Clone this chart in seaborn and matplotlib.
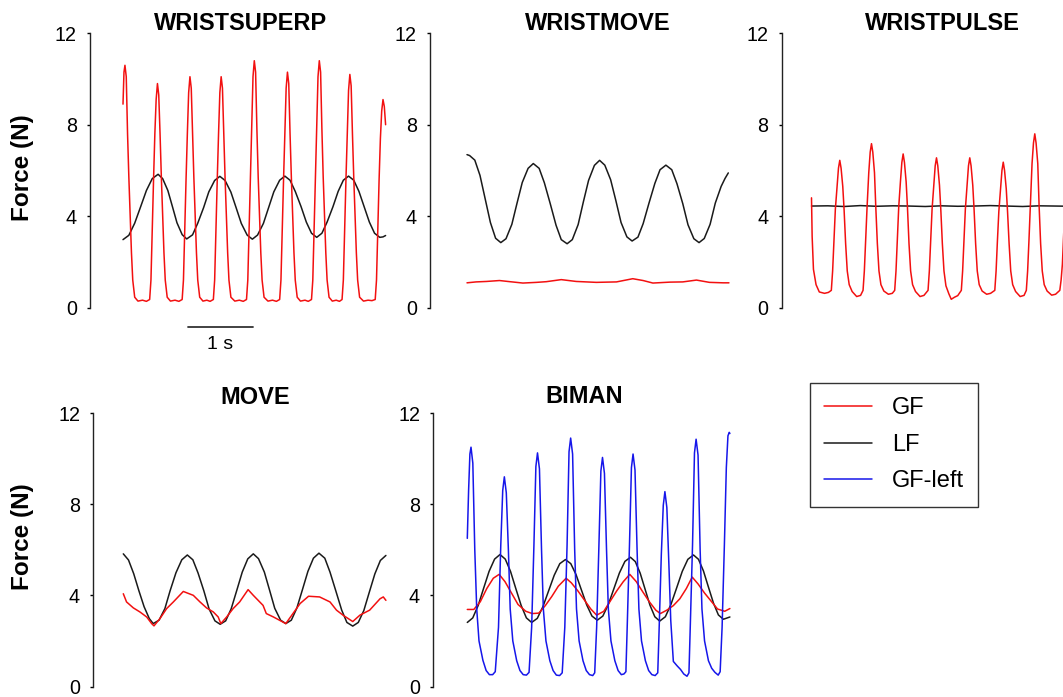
import matplotlib
matplotlib.use("Agg")
import matplotlib.pyplot as plt
from matplotlib.lines import Line2D
import pandas as pd
import seaborn as sns

# Force traces, as (time in s, force in N) samples.
# Time 0 is the first sample of each trace.

wsp_lf = [(0.00, 2.97), (0.09, 3.16), (0.18, 3.69), (0.27, 4.40), (0.36, 5.12), (0.45, 5.64),
          (0.54, 5.83), (0.61, 5.64), (0.69, 5.12), (0.76, 4.42), (0.83, 3.71), (0.91, 3.19),
          (0.98, 3.00), (1.07, 3.18), (1.15, 3.69), (1.24, 4.37), (1.32, 5.06), (1.41, 5.56),
          (1.49, 5.74), (1.57, 5.56), (1.66, 5.05), (1.74, 4.37), (1.82, 3.68), (1.91, 3.17),
          (1.99, 2.99), (2.07, 3.17), (2.16, 3.68), (2.24, 4.37), (2.32, 5.06), (2.41, 5.57),
          (2.49, 5.75), (2.57, 5.57), (2.65, 5.08), (2.74, 4.41), (2.82, 3.74), (2.90, 3.25),
          (2.98, 3.07), (3.06, 3.25), (3.14, 3.74), (3.23, 4.41), (3.31, 5.08), (3.39, 5.57),
          (3.47, 5.75), (3.55, 5.57), (3.63, 5.08), (3.71, 4.41), (3.79, 3.74), (3.87, 3.25),
          (3.95, 3.07), (4.00, 3.09), (4.04, 3.15)]

wsp_gf = [(0.00, 8.9), (0.015, 10.3), (0.03, 10.6), (0.05, 10.1), (0.07, 7.6), (0.09, 5.7),
          (0.11, 4.0), (0.13, 2.4), (0.15, 1.2), (0.18, 0.45), (0.23, 0.28), (0.30, 0.32),
          (0.36, 0.27),
          (0.41, 0.35), (0.43, 1.2), (0.45, 3.4), (0.47, 5.6), (0.49, 7.6), (0.51, 9.1),
          (0.53, 9.8), (0.55, 9.3), (0.57, 7.6), (0.59, 5.7), (0.61, 4.0), (0.63, 2.4),
          (0.65, 1.2), (0.68, 0.45), (0.73, 0.28), (0.80, 0.32), (0.86, 0.27),
          (0.91, 0.35), (0.93, 1.2), (0.95, 3.4), (0.97, 5.6), (0.99, 7.6), (1.01, 9.4),
          (1.03, 10.1), (1.05, 9.6), (1.07, 7.6), (1.09, 5.7), (1.11, 4.0), (1.13, 2.4),
          (1.15, 1.2), (1.18, 0.45), (1.23, 0.28), (1.29, 0.32), (1.34, 0.27),
          (1.39, 0.35), (1.41, 1.2), (1.43, 3.4), (1.45, 5.6), (1.47, 7.6), (1.49, 9.4),
          (1.51, 10.1), (1.53, 9.6), (1.55, 7.6), (1.57, 5.7), (1.59, 4.0), (1.61, 2.4),
          (1.63, 1.2), (1.66, 0.45), (1.72, 0.28), (1.79, 0.32), (1.85, 0.27),
          (1.90, 0.35), (1.92, 1.2), (1.94, 3.4), (1.96, 5.6), (1.98, 7.8), (2.00, 10.1),
          (2.02, 10.8), (2.04, 10.3), (2.06, 7.8), (2.08, 5.7), (2.10, 4.0), (2.12, 2.4),
          (2.14, 1.2), (2.17, 0.45), (2.23, 0.28), (2.30, 0.32), (2.36, 0.27),
          (2.41, 0.35), (2.43, 1.2), (2.45, 3.4), (2.47, 5.6), (2.49, 7.6), (2.51, 9.6),
          (2.53, 10.3), (2.55, 9.8), (2.57, 7.6), (2.59, 5.7), (2.61, 4.0), (2.63, 2.4),
          (2.65, 1.2), (2.68, 0.45), (2.73, 0.28), (2.80, 0.32), (2.85, 0.27),
          (2.90, 0.35), (2.92, 1.2), (2.94, 3.4), (2.96, 5.6), (2.98, 7.8), (3.00, 10.1),
          (3.02, 10.8), (3.04, 10.3), (3.06, 7.8), (3.08, 5.7), (3.10, 4.0), (3.12, 2.4),
          (3.14, 1.2), (3.17, 0.45), (3.22, 0.28), (3.28, 0.32), (3.33, 0.27),
          (3.37, 0.35), (3.39, 1.2), (3.41, 3.4), (3.43, 5.6), (3.45, 7.6), (3.47, 9.5),
          (3.49, 10.2), (3.51, 9.7), (3.53, 7.6), (3.55, 5.7), (3.57, 4.0), (3.59, 2.4),
          (3.61, 1.2), (3.64, 0.45), (3.70, 0.28), (3.77, 0.32), (3.83, 0.30),
          (3.88, 0.35), (3.90, 1.2), (3.92, 3.4), (3.94, 5.6), (3.96, 7.4), (3.98, 8.6),
          (4.00, 9.1), (4.02, 8.8), (4.04, 8.0)]

wmv_lf = [(0.00, 6.69), (0.04, 6.65), (0.12, 6.45), (0.20, 5.78), (0.28, 4.75), (0.36, 3.72),
          (0.44, 3.03), (0.52, 2.84), (0.60, 3.01), (0.69, 3.64), (0.77, 4.57), (0.85, 5.47),
          (0.94, 6.09), (1.02, 6.30), (1.11, 6.09), (1.19, 5.46), (1.28, 4.55), (1.37, 3.60),
          (1.45, 2.97), (1.54, 2.79), (1.62, 2.97), (1.71, 3.63), (1.79, 4.62), (1.87, 5.56),
          (1.96, 6.22), (2.04, 6.44), (2.12, 6.23), (2.21, 5.59), (2.29, 4.68), (2.37, 3.72),
          (2.46, 3.09), (2.54, 2.91), (2.63, 3.08), (2.71, 3.67), (2.80, 4.57), (2.89, 5.43),
          (2.97, 6.03), (3.06, 6.23), (3.15, 6.03), (3.23, 5.42), (3.32, 4.54), (3.40, 3.62),
          (3.49, 3.01), (3.57, 2.84), (3.65, 3.02), (3.74, 3.64), (3.82, 4.57), (3.91, 5.30),
          (3.97, 5.65), (4.02, 5.89)]

wmv_gf = [(0.00, 1.08), (0.14, 1.12), (0.30, 1.14), (0.50, 1.18), (0.66, 1.13), (0.86, 1.07),
          (1.07, 1.10), (1.22, 1.13), (1.45, 1.22), (1.68, 1.14), (1.99, 1.10), (2.30, 1.12),
          (2.55, 1.26), (2.71, 1.18), (2.86, 1.07), (3.12, 1.11), (3.32, 1.12), (3.53, 1.20),
          (3.73, 1.10), (3.94, 1.08), (4.03, 1.08)]

wpl_lf = [(0.00, 4.44), (0.25, 4.45), (0.50, 4.42), (0.75, 4.46), (1.00, 4.43), (1.25, 4.45),
          (1.50, 4.44), (1.75, 4.42), (2.00, 4.45), (2.25, 4.43), (2.50, 4.44), (2.75, 4.46),
          (3.00, 4.44), (3.25, 4.42), (3.50, 4.45), (3.75, 4.44), (4.00, 4.43)]

wpl_gf = [(0.00, 4.8), (0.01, 3.1), (0.03, 1.67), (0.07, 1.0), (0.12, 0.68), (0.20, 0.62),
          (0.26, 0.66),
          (0.305, 0.75), (0.325, 1.6), (0.345, 2.9), (0.367, 4.3), (0.393, 5.3), (0.415, 6.1),
          (0.435, 6.44), (0.455, 6.1), (0.481, 5.3), (0.501, 4.3), (0.525, 2.8), (0.55, 1.6),
          (0.58, 1.0), (0.625, 0.7), (0.695, 0.48), (0.755, 0.53),
          (0.793, 0.75), (0.813, 1.6), (0.833, 2.9), (0.855, 4.4), (0.881, 5.9), (0.903, 6.8),
          (0.923, 7.17), (0.943, 6.8), (0.969, 5.9), (0.989, 4.4), (1.013, 2.8), (1.038, 1.6),
          (1.068, 1.0), (1.113, 0.72), (1.183, 0.58), (1.243, 0.62),
          (1.28, 0.75), (1.30, 1.6), (1.32, 2.9), (1.342, 4.4), (1.368, 5.5), (1.39, 6.35),
          (1.41, 6.72), (1.43, 6.35), (1.456, 5.5), (1.476, 4.4), (1.50, 2.8), (1.525, 1.6),
          (1.555, 1.0), (1.60, 0.7), (1.67, 0.48), (1.73, 0.53),
          (1.793, 0.75), (1.813, 1.6), (1.833, 2.9), (1.855, 4.3), (1.881, 5.35), (1.903, 6.2),
          (1.923, 6.55), (1.943, 6.2), (1.969, 5.35), (1.989, 4.3), (2.013, 2.8), (2.038, 1.6),
          (2.068, 0.95), (2.113, 0.6), (2.15, 0.36), (2.20, 0.45), (2.25, 0.52),
          (2.305, 0.75), (2.325, 1.6), (2.345, 2.9), (2.367, 4.3), (2.393, 5.35), (2.415, 6.2),
          (2.435, 6.55), (2.455, 6.2), (2.481, 5.35), (2.501, 4.3), (2.525, 2.8), (2.55, 1.6),
          (2.58, 1.0), (2.625, 0.72), (2.695, 0.58), (2.755, 0.62),
          (2.82, 0.75), (2.84, 1.6), (2.86, 2.9), (2.882, 4.2), (2.908, 5.2), (2.93, 6.0),
          (2.95, 6.36), (2.97, 6.0), (2.996, 5.2), (3.016, 4.2), (3.04, 2.8), (3.065, 1.6),
          (3.095, 1.0), (3.14, 0.7), (3.21, 0.48), (3.27, 0.53),
          (3.305, 0.75), (3.325, 1.6), (3.345, 2.9), (3.367, 4.5), (3.393, 6.3), (3.415, 7.2),
          (3.435, 7.6), (3.455, 7.2), (3.481, 6.3), (3.501, 4.5), (3.525, 2.8), (3.55, 1.6),
          (3.58, 1.0), (3.625, 0.72), (3.695, 0.54), (3.755, 0.58),
          (3.82, 0.75), (3.84, 1.2), (3.86, 1.9), (3.88, 3.2), (3.90, 4.6), (3.93, 6.0),
          (3.95, 6.8), (3.97, 6.4), (4.00, 5.0), (4.02, 3.8)]

mov_lf = [(0.00, 5.82), (0.08, 5.55), (0.16, 4.95), (0.24, 4.20), (0.32, 3.50), (0.40, 2.98),
          (0.46, 2.76), (0.55, 2.91), (0.64, 3.42), (0.72, 4.20), (0.81, 4.99), (0.90, 5.56),
          (0.985, 5.77), (1.07, 5.56), (1.15, 4.98), (1.24, 4.19), (1.32, 3.40), (1.41, 2.88),
          (1.49, 2.73), (1.575, 2.88), (1.66, 3.41), (1.745, 4.21), (1.83, 5.02), (1.915, 5.60),
          (2.00, 5.82), (2.08, 5.61), (2.17, 5.02), (2.25, 4.23), (2.33, 3.43), (2.42, 2.91),
          (2.50, 2.76), (2.585, 2.91), (2.67, 3.44), (2.755, 4.24), (2.84, 5.05), (2.925, 5.63),
          (3.01, 5.85), (3.10, 5.63), (3.18, 5.02), (3.27, 4.19), (3.36, 3.35), (3.44, 2.81),
          (3.53, 2.65), (3.615, 2.81), (3.70, 3.33), (3.785, 4.14), (3.87, 4.94), (3.955, 5.53),
          (4.04, 5.75)]

mov_gf = [(0.00, 4.07), (0.05, 3.71), (0.154, 3.45), (0.256, 3.27), (0.36, 3.05), (0.436, 2.76),
          (0.472, 2.66), (0.564, 2.98), (0.667, 3.42), (0.77, 3.71), (0.923, 4.17), (1.077, 4.00),
          (1.18, 3.71), (1.28, 3.45), (1.385, 3.27), (1.46, 3.05), (1.50, 2.76), (1.59, 3.05),
          (1.69, 3.42), (1.79, 3.71), (1.92, 4.25), (2.00, 4.00), (2.15, 3.56), (2.20, 3.20),
          (2.31, 3.05), (2.50, 2.76), (2.61, 3.20), (2.72, 3.64), (2.85, 3.96), (3.02, 3.93),
          (3.18, 3.71), (3.28, 3.35), (3.38, 3.13), (3.53, 2.85), (3.64, 3.13), (3.79, 3.35),
          (3.95, 3.85), (4.00, 3.93), (4.04, 3.78)]

bim_lf = [(0.00, 2.81), (0.084, 3.01), (0.168, 3.56), (0.25, 4.30), (0.335, 5.05), (0.42, 5.59),
          (0.503, 5.79), (0.584, 5.59), (0.665, 5.05), (0.746, 4.30), (0.828, 3.56), (0.909, 3.01),
          (0.99, 2.81), (1.077, 2.99), (1.163, 3.50), (1.25, 4.19), (1.337, 4.88), (1.423, 5.39),
          (1.51, 5.57), (1.592, 5.39), (1.673, 4.91), (1.755, 4.24), (1.837, 3.58), (1.918, 3.09),
          (2.00, 2.91), (2.085, 3.09), (2.17, 3.60), (2.255, 4.29), (2.34, 4.98), (2.425, 5.49),
          (2.51, 5.67), (2.585, 5.48), (2.66, 4.97), (2.735, 4.27), (2.81, 3.57), (2.885, 3.06),
          (2.96, 2.87), (3.047, 3.06), (3.133, 3.60), (3.22, 4.32), (3.307, 5.05), (3.393, 5.58),
          (3.48, 5.77), (3.557, 5.58), (3.633, 5.07), (3.71, 4.36), (3.787, 3.66), (3.863, 3.14),
          (3.94, 2.95), (4.04, 3.05)]

bim_gf = [(0.00, 3.38), (0.10, 3.38), (0.20, 3.72), (0.30, 4.30), (0.40, 4.75), (0.49, 4.92),
          (0.58, 4.60), (0.68, 4.10), (0.78, 3.60), (0.90, 3.30), (1.00, 3.20), (1.10, 3.22),
          (1.20, 3.55), (1.30, 3.95), (1.40, 4.40), (1.52, 4.75), (1.60, 4.55), (1.70, 4.20),
          (1.80, 3.80), (1.90, 3.40), (1.99, 3.13), (2.10, 3.30), (2.20, 3.75), (2.30, 4.20),
          (2.40, 4.60), (2.50, 4.92), (2.60, 4.60), (2.70, 4.15), (2.80, 3.72), (2.90, 3.35),
          (2.97, 3.20), (3.07, 3.35), (3.17, 3.55), (3.27, 3.85), (3.37, 4.30), (3.46, 4.80),
          (3.55, 4.50), (3.65, 4.10), (3.75, 3.75), (3.85, 3.40), (3.96, 3.30), (4.04, 3.42)]

bim_gf_left = [(0.00, 6.5), (0.02, 8.6), (0.04, 10.2), (0.057, 10.5), (0.085, 9.8), (0.115, 6.0),
               (0.145, 3.4), (0.18, 2.0), (0.24, 1.15), (0.29, 0.7), (0.34, 0.52), (0.39, 0.52),
               (0.43, 0.65),
               (0.48, 2.6), (0.515, 6.2), (0.545, 8.6), (0.57, 9.2), (0.60, 8.5), (0.632, 6.0),
               (0.66, 3.4), (0.70, 2.0), (0.76, 1.13), (0.81, 0.7), (0.86, 0.52), (0.91, 0.5),
               (0.95, 0.62),
               (0.99, 2.6), (1.025, 6.2), (1.055, 9.65), (1.08, 10.25), (1.11, 9.55), (1.142, 6.0),
               (1.17, 3.4), (1.21, 2.0), (1.27, 1.13), (1.32, 0.7), (1.37, 0.5), (1.42, 0.48),
               (1.46, 0.6),
               (1.50, 2.6), (1.535, 6.2), (1.565, 10.3), (1.59, 10.9), (1.62, 10.2), (1.652, 6.0),
               (1.68, 3.4), (1.72, 2.0), (1.78, 1.13), (1.83, 0.7), (1.88, 0.52), (1.93, 0.48),
               (1.96, 0.6),
               (1.99, 2.6), (2.025, 6.2), (2.055, 9.45), (2.08, 10.05), (2.11, 9.35), (2.142, 6.0),
               (2.17, 3.4), (2.21, 2.0), (2.27, 1.13), (2.32, 0.7), (2.37, 0.52), (2.41, 0.55),
               (2.44, 0.65),
               (2.46, 2.6), (2.495, 6.2), (2.525, 9.6), (2.55, 10.2), (2.58, 9.5), (2.612, 6.0),
               (2.64, 3.4), (2.68, 2.0), (2.74, 1.13), (2.79, 0.7), (2.84, 0.52), (2.89, 0.48),
               (2.93, 0.6),
               (2.95, 2.4), (2.985, 5.8), (3.015, 7.95), (3.04, 8.55), (3.07, 7.85), (3.102, 5.3),
               (3.13, 2.9), (3.17, 1.1), (3.23, 0.9), (3.28, 0.75), (3.33, 0.55), (3.38, 0.45),
               (3.41, 0.6),
               (3.43, 2.6), (3.465, 6.2), (3.495, 10.25), (3.52, 10.85), (3.55, 10.15), (3.582, 6.0),
               (3.61, 3.4), (3.65, 2.0), (3.71, 1.13), (3.76, 0.8), (3.81, 0.62), (3.86, 0.5),
               (3.89, 0.65),
               (3.92, 2.6), (3.955, 6.2), (3.985, 9.6), (4.01, 11.0), (4.03, 11.15), (4.04, 11.1)]

RED, BLACK, BLUE = "#f21010", "#1a1a1a", "#1616ea"

sns.set_style("ticks")
plt.rcParams["font.family"] = ["Liberation Sans", "DejaVu Sans"]
plt.rcParams["text.color"] = "black"
plt.rcParams["ytick.color"] = "black"

W, H = 1063, 697
SEC = 65.0      # pixels per second in the original figure
AX_W = 302      # axes width in pixels

fig = plt.figure(figsize=(W / 100, H / 100), dpi=100)

# title, spine x, data start x, y of 12, y of 0, title centre x, title baseline y, traces
panels = [
    ("WRISTSUPERP", 90, 123, 33.3, 307.5, 241, 30, [(wsp_lf, BLACK), (wsp_gf, RED)]),
    ("WRISTMOVE", 430, 467, 33.3, 307.5, 598, 30, [(wmv_lf, BLACK), (wmv_gf, RED)]),
    ("WRISTPULSE", 781.5, 811.5, 33.3, 307.5, 942, 30, [(wpl_lf, BLACK), (wpl_gf, RED)]),
    ("MOVE", 93.3, 123.3, 413, 686.5, 255, 404, [(mov_lf, BLACK), (mov_gf, RED)]),
    ("BIMAN", 433.3, 467.3, 413, 686.5, 584, 403,
     [(bim_lf, BLACK), (bim_gf, RED), (bim_gf_left, BLUE)]),
]

axes = []
for title, left, start, top, bottom, tx, ty, traces in panels:
    ax = fig.add_axes([left / W, 1 - bottom / H, AX_W / W, (bottom - top) / H])
    ax.patch.set_alpha(0)
    for pts, col in traces:
        df = pd.DataFrame(pts, columns=["t", "F"])
        sns.lineplot(data=df, x="t", y="F", ax=ax, color=col, lw=1.1, estimator=None)
    lead = (start - left) / SEC
    ax.set_xlim(-lead, AX_W / SEC - lead)
    ax.set_ylim(0, 12)
    ax.set_yticks([0, 4, 8, 12])
    ax.set_xticks([])
    ax.set_xlabel("")
    ax.set_ylabel("")
    for s in ["top", "right", "bottom"]:
        ax.spines[s].set_visible(False)
    ax.spines["left"].set_linewidth(1.0)
    ax.spines["left"].set_color("#222222")
    ax.tick_params(axis="y", length=2.5, width=1.0, pad=7, labelsize=14.2, colors="black")
    fig.text(tx / W, 1 - ty / H, title, ha="center", va="baseline",
             fontsize=17, fontweight="bold", color="black")
    axes.append(ax)

# y labels
for ly in (168, 537):
    fig.text(23 / W, 1 - ly / H, "Force (N)", rotation=90, ha="center", va="center",
             fontsize=17.5, fontweight="bold", color="black")

# 1 s scale bar under the first panel
bar_t0, bar_len = 1.0, 1.0
axes[0].plot([bar_t0, bar_t0 + bar_len], [-0.84, -0.84], color="#333333", lw=1.3, clip_on=False)
axes[0].text(bar_t0 + bar_len / 2, -1.64, "1 s", ha="center", va="center", fontsize=14)

handles = [Line2D([], [], color=RED, lw=1.1),
           Line2D([], [], color=BLACK, lw=1.1),
           Line2D([], [], color=BLUE, lw=1.1)]
leg = fig.legend(handles, ["GF", "LF", "GF-left"], loc="upper left",
                 bbox_to_anchor=(810 / W, 1 - 383 / H), frameon=True, fancybox=False,
                 edgecolor="#333333", framealpha=1, fontsize=17, handlelength=2.03,
                 handletextpad=0.85, labelspacing=0.62, borderpad=0.6, borderaxespad=0)
leg.get_frame().set_linewidth(1.0)

fig.savefig("out.png", dpi=100)
